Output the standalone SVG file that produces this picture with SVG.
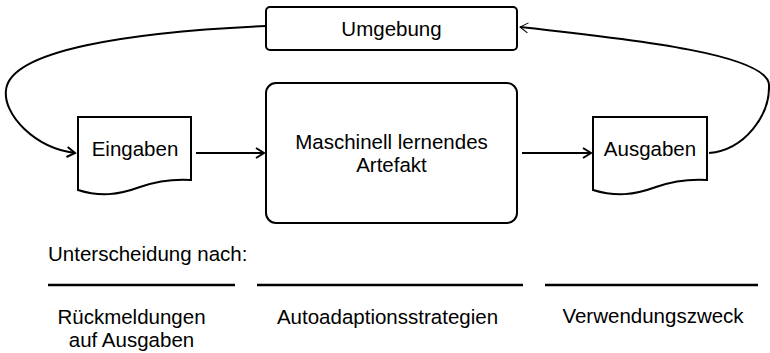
<svg xmlns="http://www.w3.org/2000/svg" width="770" height="353" viewBox="0 0 770 353">
<style>
.box{fill:#fff;stroke:#000;stroke-width:2}
.lbl{font-family:"Liberation Sans",Arial,sans-serif;font-size:20.5px;fill:#000}
.c{text-anchor:middle}
.edge{fill:none;stroke:#000;stroke-width:2}
.sep{stroke:#000;stroke-width:2.5}
</style>
<defs>
<marker id="open" markerUnits="userSpaceOnUse" markerWidth="14" markerHeight="14" refX="12" refY="7" orient="auto">
<path d="M4,2 L12,7 L4,12" fill="none" stroke="#000" stroke-width="2"/>
</marker>
<marker id="openThin" markerUnits="userSpaceOnUse" markerWidth="14" markerHeight="14" refX="12" refY="7" orient="auto">
<path d="M4,2 L12,7 L4,12" fill="none" stroke="#000" stroke-width="1"/>
</marker>
</defs>
<g id="umgebung">
<rect class="box" x="266" y="7" width="251" height="43" rx="4"/>
<text class="lbl c" x="391.5" y="36">Umgebung</text>
</g>
<g id="artefakt">
<rect class="box" x="266" y="83" width="251" height="140" rx="10"/>
<text class="lbl c" x="391.5" y="148.5">Maschinell lernendes</text>
<text class="lbl c" x="391.5" y="172">Artefakt</text>
</g>
<g id="eingaben">
<path class="box" d="M78,117 L191,117 L191,180 C175,179 160,180 140,187 C118,195 100,197 78,190 Z"/>
<text class="lbl c" x="135" y="156">Eingaben</text>
</g>
<g id="ausgaben">
<path class="box" d="M593,117 L707,117 L707,180 C691,179 676,180 656,187 C634,195 616,197 593,190 Z"/>
<text class="lbl c" x="650" y="156">Ausgaben</text>
</g>
<g id="connectors">
<path class="edge" d="M196,153 L264,153" marker-end="url(#open)"/>
<path class="edge" d="M522,153 L591,153" marker-end="url(#open)"/>
<path class="edge" d="M266,26 C130,32 10,50 6,90 C3,115 35,148 75,153" marker-end="url(#open)"/>
<path class="edge" d="M709,153 C745,150 770,115 769,85 C768,55 640,40 520,27" marker-end="url(#openThin)"/>
</g>
<g id="unterscheidung">
<text class="lbl" x="48" y="261">Unterscheidung nach:</text>
<line class="sep" x1="48" y1="285" x2="235" y2="285"/>
<line class="sep" x1="257" y1="285" x2="523" y2="285"/>
<line class="sep" x1="545" y1="285" x2="758" y2="285"/>
<text class="lbl c" x="131.5" y="324">Rückmeldungen</text>
<text class="lbl c" x="131.5" y="347">auf Ausgaben</text>
<text class="lbl c" x="387.5" y="324">Autoadaptionsstrategien</text>
<text class="lbl c" x="653" y="323">Verwendungszweck</text>
</g>
</svg>
